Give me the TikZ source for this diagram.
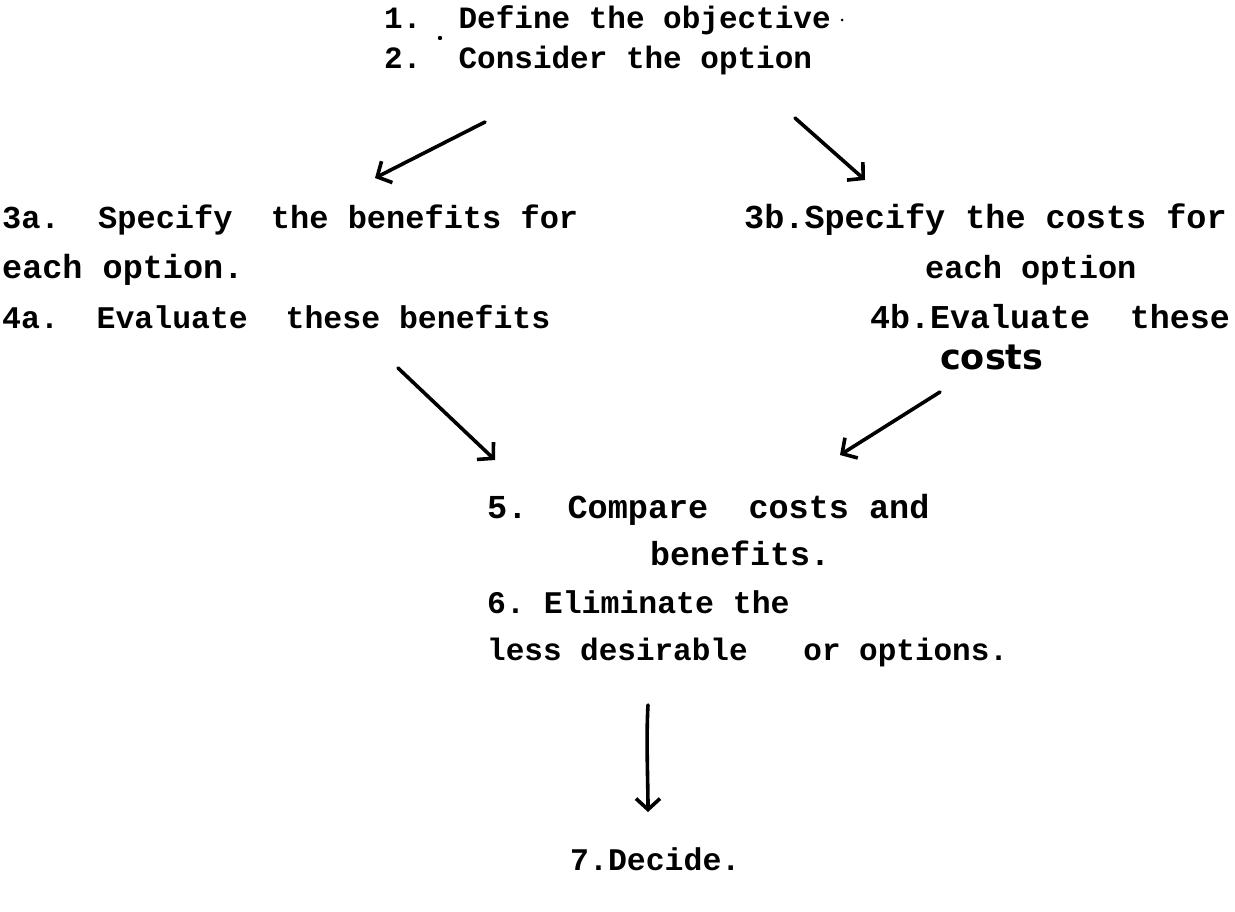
\documentclass[tikz,border=0pt]{standalone}
\usepackage{fontspec}
\setmonofont{Liberation Mono}
\newfontfamily\costsfont{DejaVu Sans}
\usetikzlibrary{arrows.meta}
\begin{document}
\begin{tikzpicture}[x=1pt,y=-1pt,
  txt/.style={anchor=base west, inner sep=0pt, font=\ttfamily\bfseries\fontsize{#1}{#1}\selectfont},
  txt/.default=31,
  arr/.style={line width=3.6pt, line cap=round, -{Straight Barb[length=11pt,width=24pt,line width=3.6pt]}},
  speck/.style={fill=black, draw=none}]
\useasboundingbox (0,0) rectangle (1235,911);
% texts
\node[txt] (t1) at (384,28) {1.~~Define the objective};
\node[txt] (t2) at (384,68) {2.~~Consider the option};
\node[txt=32] (t3a) at (2,228) {3a.~~Specify~~the benefits for};
\node[txt=33.5] (t3b) at (744,228) {3b.Specify the costs for};
\node[txt=33.5] (t3a2) at (2,278) {each option.};
\node[txt=32] (t3b2) at (925,278) {each option};
\node[txt=31.5] (t4a) at (2,328) {4a.~~Evaluate~~these benefits};
\node[txt=33.3] (t4b) at (870,328) {4b.Evaluate~~these};
\node[anchor=base west, inner sep=0pt, font=\costsfont\bfseries\fontsize{35}{35}\selectfont] (t4b2) at (940,369) {costs};
\node[txt=33.5] (t5) at (487,518) {5.~~Compare~~costs and};
\node[txt=33.3] (t52) at (650,565) {benefits.};
\node[txt=31.5] (t6) at (487,613) {6. Eliminate the};
\node[txt] (t62) at (487,660) {less desirable~~~or options.};
\node[txt=31.5] (t7) at (570,870) {7.Decide.};
% specks
\fill[speck] (440,38) circle (2.2pt);
\fill[speck] (842,20) circle (1.5pt);
% arrow end points
\coordinate (a1s) at (485,122); \coordinate (a1e) at (375,178);
\coordinate (a2s) at (795,118); \coordinate (a2e) at (865,180);
\coordinate (a3s) at (398,368); \coordinate (a3e) at (495,460);
\coordinate (a4s) at (940,392); \coordinate (a4e) at (840,455);
\coordinate (a5s) at (648,705); \coordinate (a5e) at (648,812);
\draw[arr] (a1s) -- (a1e);
\draw[arr] (a2s) -- (a2e);
\draw[arr] (a3s) -- (a3e);
\draw[arr] (a4s) -- (a4e);
\draw[arr] (a5s) .. controls (646,740) and (648,780) .. (a5e);
\end{tikzpicture}
\end{document}
